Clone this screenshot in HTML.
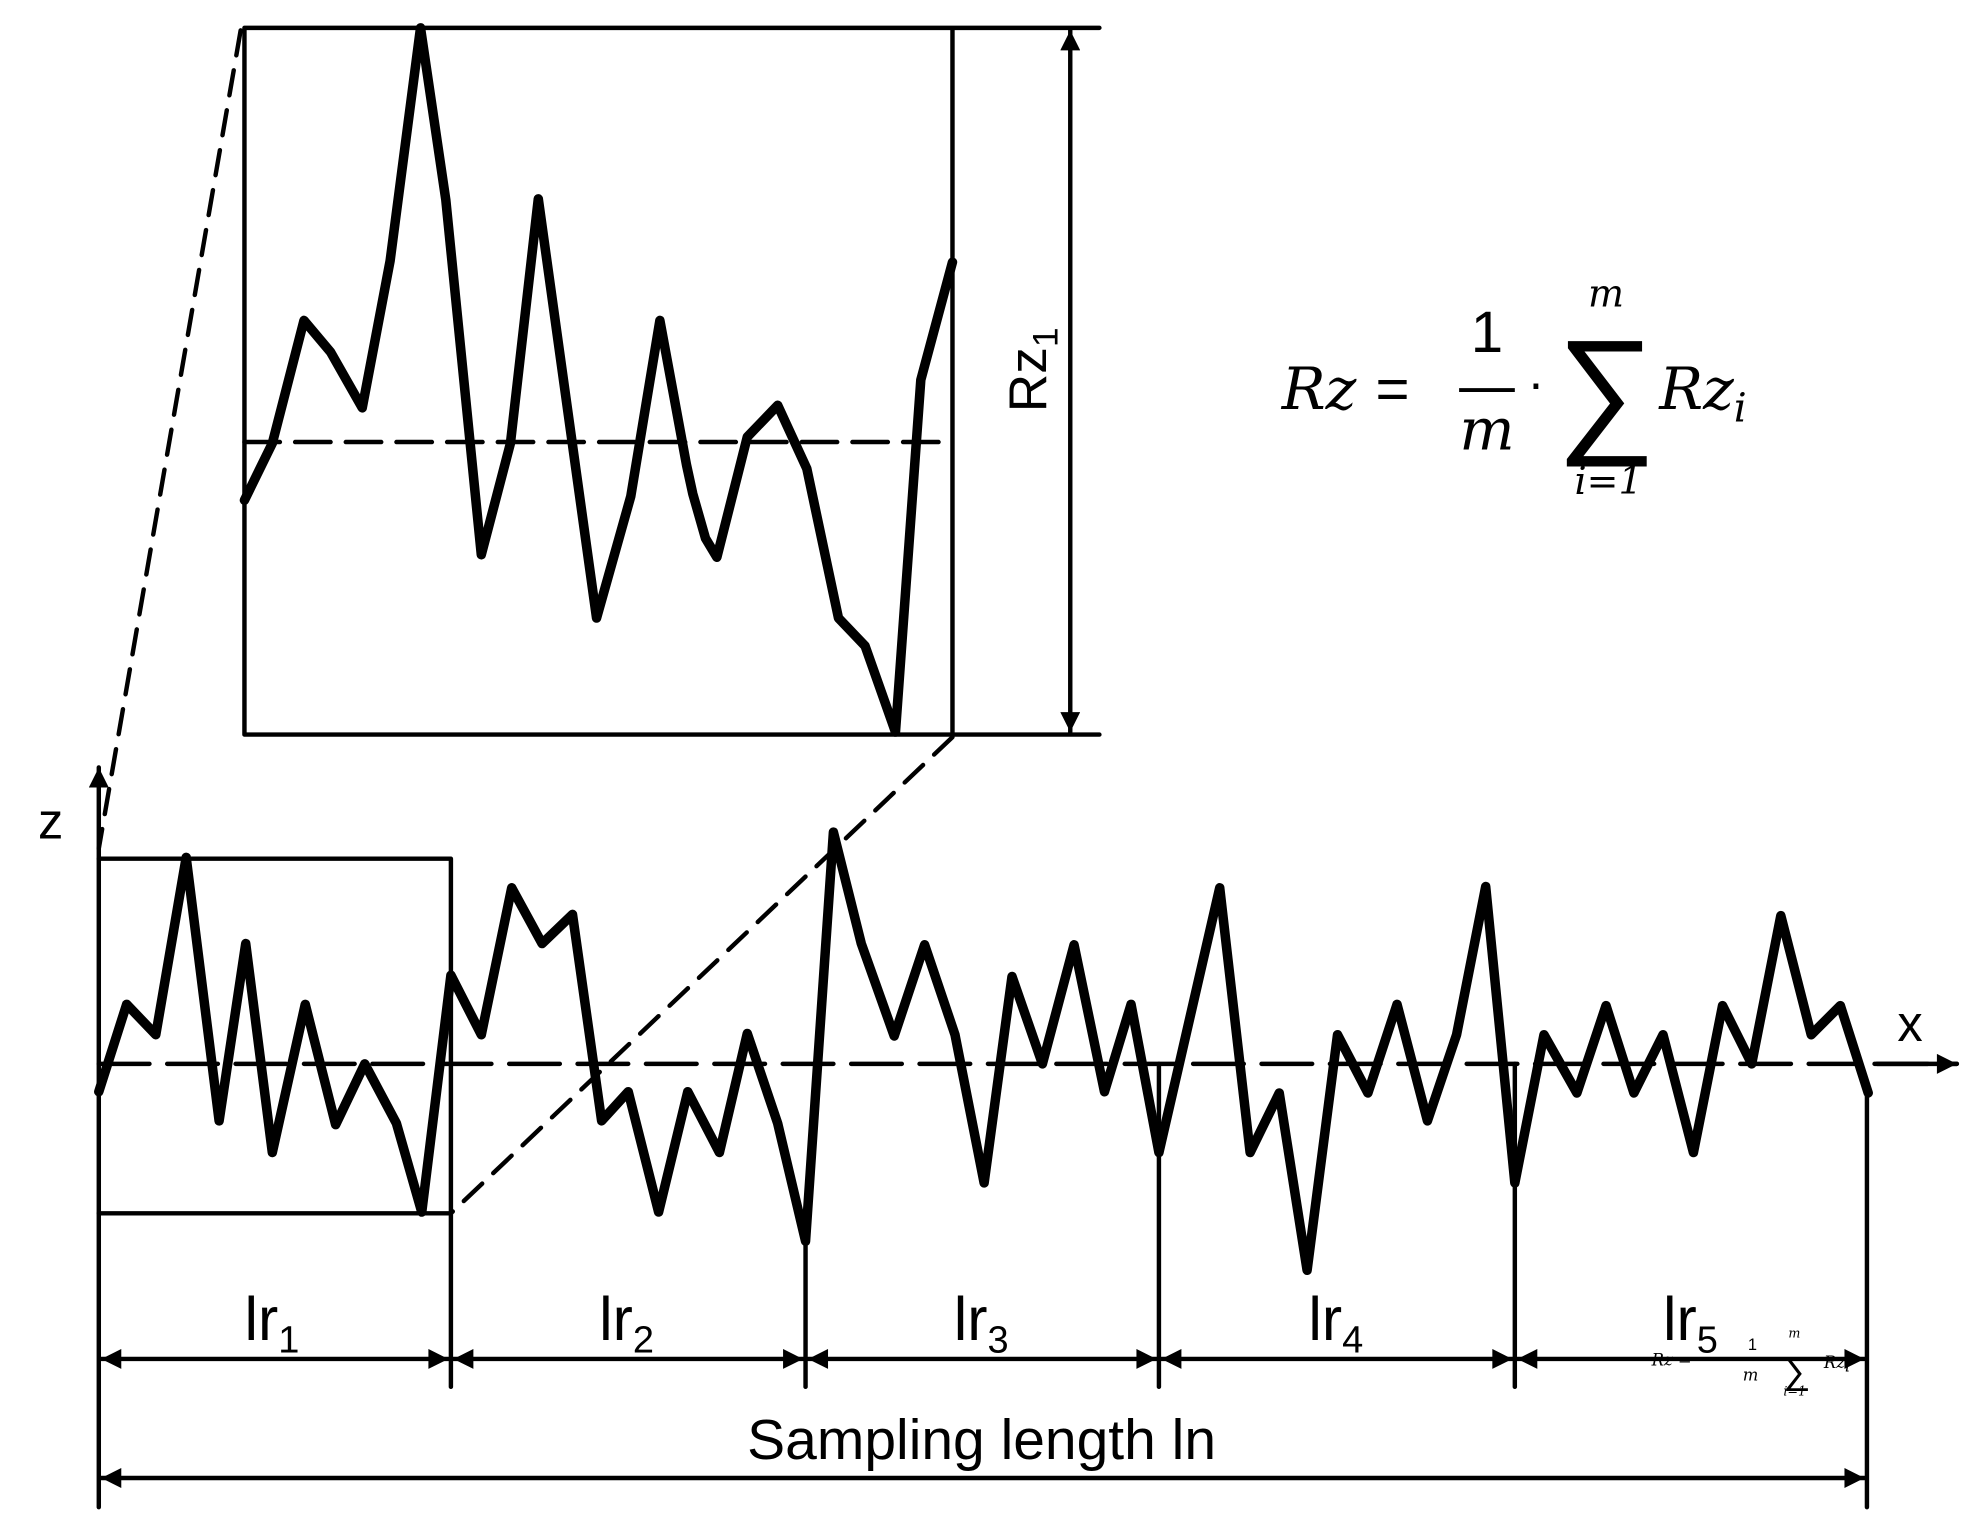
<!DOCTYPE html>
<html><head><meta charset="utf-8"><style>
html,body{margin:0;padding:0;background:#fff;}
svg{display:block;}
text{font-family:"Liberation Sans","DejaVu Sans",sans-serif;fill:#000;}
.m{font-family:"DejaVu Serif","Liberation Serif",serif;font-style:italic;}
</style></head><body>
<svg width="1986" height="1535" viewBox="0 0 1568 1212" preserveAspectRatio="none" xmlns="http://www.w3.org/2000/svg">
<defs>
<marker id="a" viewBox="0 0 10 10" refX="10" refY="5" markerWidth="7.5" markerHeight="4.5" orient="auto-start-reverse" markerUnits="strokeWidth"><path d="M0,0L10,5L0,10z"/></marker>
</defs>
<g stroke="#000" fill="none" stroke-linecap="round" stroke-linejoin="round">
<path d="M193,22H868M193,580H868M193,22V580M752,22V580" stroke-width="3.5"/>
<line x1="845" y1="24" x2="845" y2="578" stroke-width="3.5" marker-start="url(#a)" marker-end="url(#a)"/>
<line x1="193" y1="349" x2="752" y2="349" stroke-width="3.5" stroke-dasharray="28,12"/>
<polyline stroke-width="7.5" points="193,395 215,350 240,253 261,278 286,322 308,206 332,22 352,158 380,438 403,350 425,157 471,488 498,392 521,253 542,367 547,390 557,425 566,440 590,345 614,320 637,370 662,488 683,510 707,578 727,300 752,207"/>
<line x1="190" y1="24" x2="78" y2="670" stroke-width="3.5" stroke-dasharray="20,12"/>
<line x1="752" y1="582" x2="356" y2="958" stroke-width="3.5" stroke-dasharray="20,12"/>
<line x1="78" y1="1190" x2="78" y2="606" stroke-width="3.5" marker-end="url(#a)"/>
<line x1="78" y1="840" x2="1545" y2="840" stroke-width="3.5" stroke-dasharray="40,14" />
<line x1="1480" y1="840" x2="1545" y2="840" stroke-width="3.5" marker-end="url(#a)"/>
<path d="M78,678H356V958H78" stroke-width="3.5"/>
<polyline stroke-width="7.5" points="78,862 100,793 123,817 147,677 173,885 194,745 215,910 241,793 265,888 288,840 313,887 333,957 356,770 380,817 404,701 428,745 452,722 475,885 496,862 520,957 543,862 568,910 590,816 614,887 636,980 658,657 680,745 706,818 730,746 754,817 777,934 799,771 823,840 848,746 872,862 893,793 915,910 963,701 987,910 1010,863 1032,1003 1056,817 1080,863 1103,793 1127,885 1150,817 1173,700 1196,934 1219,817 1245,863 1268,794 1290,863 1313,817 1337,910 1360,794 1383,840 1406,723 1430,817 1453,794 1475,863"/>
<path d="M356,958V1095M636,980V1095M915,840V1095M1196,840V1095M1474,863V1190" stroke-width="3.5"/>
<line x1="80" y1="1073" x2="354" y2="1073" stroke-width="3.5" marker-start="url(#a)" marker-end="url(#a)"/>
<line x1="358" y1="1073" x2="634" y2="1073" stroke-width="3.5" marker-start="url(#a)" marker-end="url(#a)"/>
<line x1="638" y1="1073" x2="913" y2="1073" stroke-width="3.5" marker-start="url(#a)" marker-end="url(#a)"/>
<line x1="917" y1="1073" x2="1194" y2="1073" stroke-width="3.5" marker-start="url(#a)" marker-end="url(#a)"/>
<line x1="1198" y1="1073" x2="1472" y2="1073" stroke-width="3.5" marker-start="url(#a)" marker-end="url(#a)"/>
<line x1="80" y1="1167" x2="1472" y2="1167" stroke-width="3.5" marker-start="url(#a)" marker-end="url(#a)"/>
</g>
<text x="30" y="662" font-size="40">z</text>
<text x="1498" y="822" font-size="40">x</text>
<text x="826" y="292" font-size="42" transform="rotate(-90 826 292)" text-anchor="middle">Rz<tspan font-size="28" dy="9">1</tspan></text>
<g font-size="48">
<text x="193" y="1058">lr<tspan font-size="30" dy="10">1</tspan></text>
<text x="473" y="1058">lr<tspan font-size="30" dy="10">2</tspan></text>
<text x="753" y="1058">lr<tspan font-size="30" dy="10">3</tspan></text>
<text x="1033" y="1058">lr<tspan font-size="30" dy="10">4</tspan></text>
<text x="1313" y="1058">lr<tspan font-size="30" dy="10">5</tspan></text>
</g>
<text x="775" y="1152" font-size="45" text-anchor="middle">Sampling length ln</text>
<g font-size="46">
<text class="m" x="1012" y="323">Rz</text>
<text x="1086" y="323">=</text>
<text x="1174" y="278" font-family="DejaVu Serif" text-anchor="middle">1</text>
<line x1="1152" y1="308" x2="1196" y2="308" stroke="#000" stroke-width="3"/>
<text class="m" x="1174" y="355" text-anchor="middle">m</text>
<text x="1206" y="316" font-size="40">·</text>
<text class="m" x="1268" y="242" font-size="30" text-anchor="middle">m</text>
<text x="1268" y="345" font-family="DejaVu Sans" font-size="110" text-anchor="middle">∑</text>
<text class="m" x="1270" y="390" font-size="30" text-anchor="middle">i=1</text>
<text class="m" x="1310" y="323">Rz<tspan font-size="32" dy="10">i</tspan></text>
</g>
<g font-size="13" fill="#333">
<text class="m" x="1304" y="1078">Rz =</text>
<text x="1380" y="1066" font-family="DejaVu Serif">1</text>
<text class="m" x="1376" y="1090">m</text>
<text x="1408" y="1092" font-size="30" font-family="DejaVu Sans">∑</text>
<text class="m" x="1412" y="1056" font-size="10">m</text>
<text class="m" x="1408" y="1102" font-size="10">i=1</text>
<text class="m" x="1440" y="1080">Rz<tspan dy="3">i</tspan></text>
</g>
</svg>
</body></html>
